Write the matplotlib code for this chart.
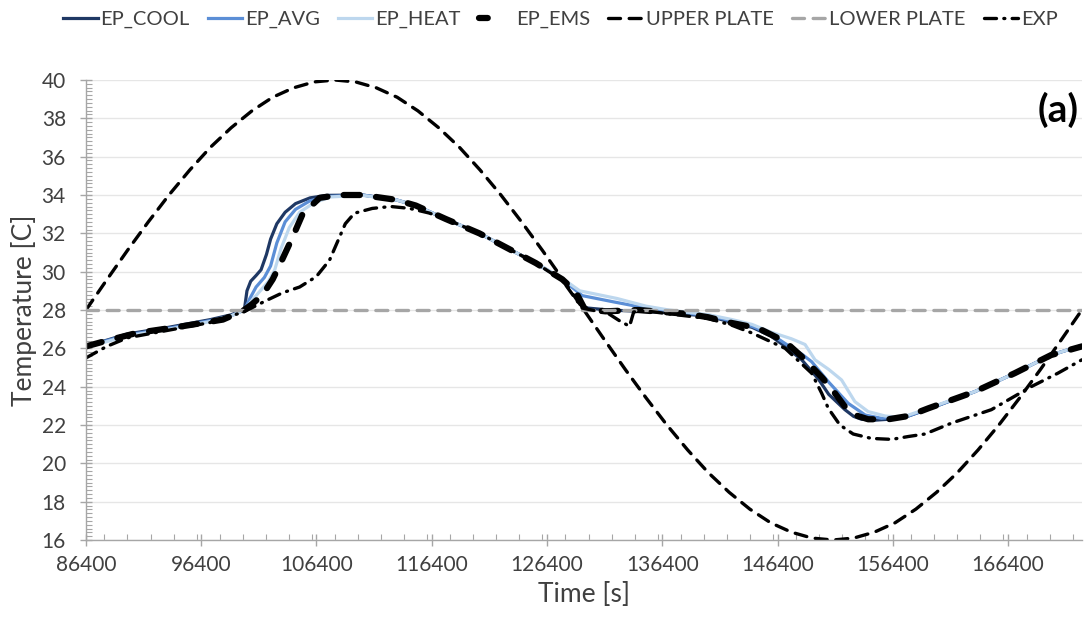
import numpy as np
import matplotlib
matplotlib.use('Agg')
import matplotlib.pyplot as plt
from matplotlib.lines import Line2D
from matplotlib.ticker import MultipleLocator

DAY_START = 86400  # s, start of the second simulated day

# hours after DAY_START / temperature [C]
plate_h = [0, 0.5, 1, 1.5, 2, 2.5, 3, 3.5, 4, 4.5, 5, 5.5, 6, 6.5, 7, 7.5, 8, 8.5, 9, 9.5, 10,
           10.5, 11, 11.5, 12, 12.5, 13, 13.5, 14, 14.5, 15, 15.5, 16, 16.5, 17, 17.5, 18, 18.5,
           19, 19.5, 20, 20.5, 21, 21.5, 22, 22.5, 23, 23.5, 24]
upper_plate = [28.0, 29.57, 31.11, 32.59, 34.0, 35.3, 36.49, 37.51, 38.39, 39.1, 39.59, 39.9,
               40.0, 39.9, 39.59, 39.1, 38.39, 37.51, 36.49, 35.3, 34.0, 32.59, 31.11, 29.57,
               28.0, 26.43, 24.89, 23.41, 22.0, 20.7, 19.51, 18.49, 17.61, 16.9, 16.41, 16.1,
               16.0, 16.1, 16.41, 16.9, 17.61, 18.49, 19.51, 20.7, 22.0, 23.41, 24.89, 26.43, 28.0]
lower_plate = [28.0] * len(plate_h)

cool_h = [0, 1, 2, 3, 3.5, 3.82, 3.88, 3.97, 4.1, 4.22, 4.35, 4.45, 4.6, 4.8, 5.05, 5.4, 5.8,
          6.66, 7.47, 7.95, 8.67, 9.48, 10.27, 10.84, 11.48, 11.88, 11.96, 12.1, 12.6, 13.5,
          14.05, 15.01, 15.57, 16.05, 16.5, 16.85, 17.25, 17.65, 17.9, 18.29, 18.5, 18.69,
          19.0, 19.34, 19.82, 20.46, 21.42, 22.38, 23.26, 24]
cool_t = [26.1, 26.75, 27.1, 27.5, 27.75, 28.05, 29.0, 29.5, 29.8, 30.1, 30.9, 31.7, 32.5, 33.1,
          33.55, 33.85, 33.98, 34.0, 33.75, 33.45, 32.75, 32.0, 31.1, 30.45, 29.6, 28.96, 28.2,
          28.1, 28.0, 27.92, 27.85, 27.68, 27.35, 27.1, 26.65, 26.1, 25.4, 24.4, 23.6, 22.8,
          22.45, 22.3, 22.25, 22.3, 22.47, 22.96, 23.74, 24.7, 25.65, 26.15]

avg_h = [0, 1, 2, 3, 3.5, 3.82, 3.95, 4.1, 4.3, 4.45, 4.6, 4.8, 5.05, 5.4, 5.8, 6.66, 7.47, 7.95,
         8.67, 9.48, 10.27, 10.84, 11.48, 11.96, 12.7, 13.5, 14.05, 15.01, 15.57, 16.05, 16.5,
         16.85, 17.25, 17.49, 17.89, 18.37, 18.78, 19.17, 19.82, 20.46, 21.42, 22.38, 23.26, 24]
avg_t = [26.1, 26.7, 27.05, 27.45, 27.7, 28.0, 28.6, 29.2, 29.7, 30.3, 31.5, 32.6, 33.25, 33.7,
         33.92, 34.0, 33.75, 33.45, 32.75, 32.0, 31.1, 30.45, 29.6, 28.75, 28.43, 28.1, 27.92,
         27.72, 27.42, 27.15, 26.75, 26.25, 25.7, 25.3, 24.26, 23.13, 22.52, 22.35, 22.47, 22.96,
         23.74, 24.7, 25.65, 26.15]

heat_h = [0, 1, 2, 3, 3.5, 3.82, 4.0, 4.2, 4.4, 4.55, 4.7, 4.9, 5.15, 5.5, 5.9, 6.66, 7.47, 7.95,
          8.67, 9.48, 10.27, 10.84, 11.48, 11.9, 12.8, 13.5, 14.05, 15.01, 15.57, 16.05, 16.5,
          17.0, 17.33, 17.57, 17.9, 18.21, 18.53, 18.85, 19.26, 19.66, 20.3, 21.42, 22.38, 23.26, 24]
heat_t = [26.05, 26.65, 27.0, 27.4, 27.7, 28.0, 28.5, 29.0, 29.5, 30.1, 31.2, 32.3, 33.1, 33.6,
          33.9, 33.98, 33.75, 33.45, 32.75, 32.0, 31.1, 30.45, 29.65, 29.0, 28.6, 28.2, 28.0,
          27.75, 27.5, 27.25, 26.85, 26.5, 26.2, 25.4, 24.9, 24.35, 23.22, 22.7, 22.47, 22.4,
          22.87, 23.74, 24.7, 25.65, 26.15]

ems_h = [0, 0.5, 1.22, 2.26, 3.3, 3.78, 4.0, 4.26, 4.5, 4.68, 4.98, 5.22, 5.63, 6.1, 6.66, 7.47,
         7.95, 8.67, 9.48, 10.27, 10.84, 11.48, 11.8, 12.02, 12.52, 13.3, 14.0, 14.5, 15.0, 15.5,
         16.2, 16.85, 17.25, 17.49, 17.75, 18.05, 18.29, 18.53, 18.85, 19.34, 19.82, 20.3, 21.42,
         22.38, 23.26, 24]
ems_t = [26.1, 26.4, 26.8, 27.13, 27.5, 27.95, 28.3, 28.8, 29.6, 30.4, 31.8, 33.0, 33.85, 34.0,
         34.0, 33.75, 33.45, 32.75, 32.0, 31.1, 30.45, 29.6, 28.96, 28.05, 27.93, 28.0, 27.88,
         27.8, 27.62, 27.35, 27.05, 26.35, 25.57, 25.04, 24.45, 23.66, 22.96, 22.52, 22.3, 22.3,
         22.47, 22.87, 23.74, 24.7, 25.65, 26.1]

exp_h = [0, 0.5, 1, 2, 3, 3.8, 4.35, 4.74, 5.15, 5.55, 5.87, 6.03, 6.15, 6.25, 6.47, 6.9, 7.35,
         7.8, 8.27, 8.67, 9.48, 10.27, 10.84, 11.48, 11.96, 12.3, 12.6, 12.85, 13.1, 13.2, 13.5,
         14.05, 15.01, 15.57, 16.05, 16.85, 17.49, 17.73, 17.89, 18.17, 18.49, 18.93, 19.42,
         19.82, 20.22, 20.86, 21.82, 22.78, 23.42, 24]
exp_t = [25.5, 26.1, 26.55, 26.95, 27.35, 27.9, 28.5, 28.9, 29.2, 29.74, 30.6, 31.4, 32.0, 32.5,
         33.05, 33.3, 33.4, 33.3, 33.06, 32.75, 32.0, 31.1, 30.45, 29.55, 28.1, 27.95, 27.8,
         27.45, 27.15, 27.9, 27.95, 27.8, 27.55, 27.2, 26.8, 26.0, 24.7, 23.66, 22.87, 22.0,
         21.53, 21.3, 21.25, 21.4, 21.53, 22.1, 22.8, 24.0, 24.7, 25.4]


def to_sec(hours):
    return DAY_START + 3600 * np.asarray(hours, dtype=float)


plt.rcParams['font.family'] = ['Lato', 'DejaVu Sans']
text_col = '#404040'
axis_col = '#a6a6a6'

fig = plt.figure(figsize=(10.84, 6.24), dpi=100)
ax = fig.add_axes([0.0793, 0.1346, 0.9187, 0.7372])

ax.plot(to_sec(cool_h), cool_t, color='#1f3864', lw=2.3, label='EP_COOL')
ax.plot(to_sec(avg_h), avg_t, color='#5b8ed6', lw=2.3, label='EP_AVG')
ax.plot(to_sec(heat_h), heat_t, color='#bdd7ee', lw=2.3, label='EP_HEAT')
ax.plot(to_sec(ems_h), ems_t, color='black', lw=4.5, dashes=(2.6, 2.6),
        dash_capstyle='round', label='EP_EMS')
ax.plot(to_sec(plate_h), upper_plate, color='black', lw=2.4, dashes=(3.6, 2.6),
        dash_capstyle='round', label='UPPER PLATE')
ax.plot(to_sec(plate_h), lower_plate, color='#a6a6a6', lw=2.4, dashes=(3.6, 2.6),
        dash_capstyle='round', label='LOWER PLATE')
ax.plot(to_sec(exp_h), exp_t, color='black', lw=2.4, dashes=(3.6, 2.2, 0.3, 2.2),
        dash_capstyle='round', label='EXP')

ax.set_xlim(86400, 172800)
ax.set_ylim(16, 40)
ax.set_xticks(np.arange(86400, 172800, 10000))
ax.xaxis.set_minor_locator(MultipleLocator(2000))
ax.set_yticks(np.arange(16, 41, 2))
ax.yaxis.set_minor_locator(MultipleLocator(0.2))

ax.grid(axis='y', which='major', color='#e6e6e6', lw=1.0)
ax.set_axisbelow(True)
for side in ('top', 'right'):
    ax.spines[side].set_visible(False)
for side in ('left', 'bottom'):
    ax.spines[side].set_color(axis_col)
    ax.spines[side].set_linewidth(1.0)

ax.tick_params(which='major', direction='inout', length=9, width=1.0, color=axis_col,
               labelsize=15, labelcolor=text_col)
ax.tick_params(which='minor', direction='in', length=4, width=0.8, color=axis_col)
ax.tick_params(axis='x', which='major', pad=6)
ax.tick_params(axis='y', which='major', pad=10)

ax.set_xlabel('Time [s]', fontsize=19, color=text_col, labelpad=5)
ax.set_ylabel('Temperature [C]', fontsize=19, color=text_col, labelpad=3)

ax.text(0.997, 0.975, '(a)', transform=ax.transAxes, ha='right', va='top',
        fontsize=28, fontweight='bold', color='black')

# the thick dashed series shows a single short dash in the key
handles, labels = ax.get_legend_handles_labels()
handles[3] = Line2D([], [], color='black', lw=4.5, dashes=(1.4, 10), dash_capstyle='round')

fig.legend(handles, labels, loc='upper center', bbox_to_anchor=(0.517, 1.012), ncol=7,
           frameon=False, fontsize=14.5, handlelength=1.7, handletextpad=0.15,
           columnspacing=0.9, labelcolor=text_col)

fig.savefig('out.png', dpi=100)
